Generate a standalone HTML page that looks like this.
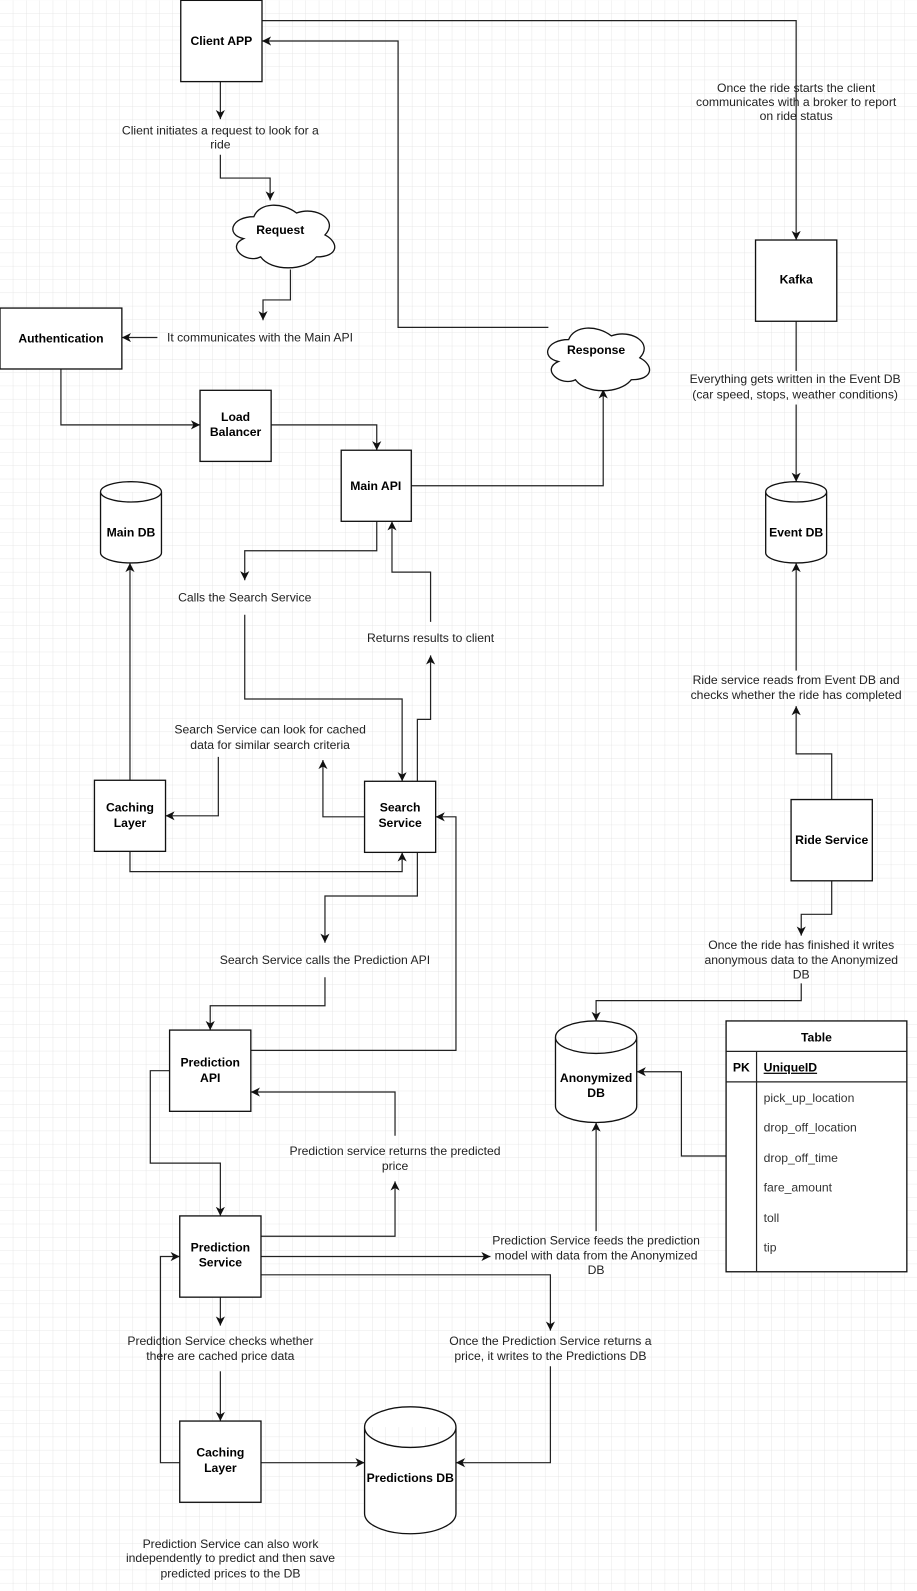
<!DOCTYPE html>
<html><head><meta charset="utf-8"><style>
html,body{margin:0;padding:0;background:#fff;}
svg{display:block;}
text{font-family:"Liberation Sans",sans-serif;font-size:12px;}
.l{fill:#222;text-anchor:middle;}
.n{fill:#000;font-weight:bold;text-anchor:middle;}
.s{fill:#fff;stroke:#111;stroke-width:1.3;}
.c{fill:none;stroke:#222;stroke-width:1.2;}
</style></head><body>
<svg width="917" height="1591" viewBox="0 0 903 1566" xmlns="http://www.w3.org/2000/svg">
<defs>
<pattern id="g" width="13.1" height="13.1" patternUnits="userSpaceOnUse"><path d="M13.1 0V13.1H0" fill="none" stroke="#e2e2e2" stroke-width="0.8"/></pattern>
<marker id="a" markerWidth="12" markerHeight="12" refX="9" refY="4.5" orient="auto" markerUnits="userSpaceOnUse"><path d="M0,0 L9,4.5 L0,9 L2.5,4.5 z" fill="#111"/></marker>
</defs>
<rect width="903" height="1566" fill="url(#g)"/>
<g class="c" marker-end="url(#a)">
<path d="M258,20 H784 V236"/>
<path d="M540,322 H392 V40 H258"/>
<path d="M217,80 V117"/>
<path d="M217,152 V175 H266 V197"/>
<path d="M286,265 V295 H259 V315"/>
<path d="M155,332 H120"/>
<path d="M60,363 V418 H197"/>
<path d="M267,418 H371 V443"/>
<path d="M405,478 H594 V383"/>
<path d="M371,513 V542 H241 V571"/>
<path d="M241,605 V688 H396 V769"/>
<path d="M411,769 V708 H424 V645"/>
<path d="M424,612 V563 H386 V513"/>
<path d="M359,804 H318 V748"/>
<path d="M215,745 V803 H163"/>
<path d="M128,768 V554"/>
<path d="M128,838 V858 H396 V839"/>
<path d="M411,839 V882 H320 V928"/>
<path d="M320,962 V990 H207 V1014"/>
<path d="M247,1034 H449 V804 H429"/>
<path d="M167,1054 H148 V1145 H217 V1197"/>
<path d="M257,1217 H389 V1163"/>
<path d="M389,1118 V1075 H247"/>
<path d="M257,1237 H483"/>
<path d="M587,1212 V1105"/>
<path d="M257,1255 H542 V1310"/>
<path d="M542,1345 V1440 H449"/>
<path d="M217,1277 V1305"/>
<path d="M217,1350 V1399"/>
<path d="M257,1440 H359"/>
<path d="M177,1440 H158 V1237 H177"/>
<path d="M784,398 V474"/>
<path d="M819,787 V742 H784 V695"/>
<path d="M784,660 V554"/>
<path d="M819,867 V900 H789 V921"/>
<path d="M789,968 V985 H587 V1005"/>
<path d="M715,1138 H671 V1055 H627"/>
</g>
<path class="c" d="M784,316 V365"/>
<rect class="s" x="178" y="0" width="80" height="80"/>
<rect class="s" x="0" y="303" width="120" height="60"/>
<rect class="s" x="197" y="384" width="70" height="70"/>
<rect class="s" x="336" y="443" width="69" height="70"/>
<rect class="s" x="744" y="236" width="80" height="80"/>
<rect class="s" x="93" y="768" width="70" height="70"/>
<rect class="s" x="359" y="769" width="70" height="70"/>
<rect class="s" x="779" y="787" width="80" height="80"/>
<rect class="s" x="167" y="1014" width="80" height="80"/>
<rect class="s" x="177" y="1197" width="80" height="80"/>
<rect class="s" x="177" y="1399" width="80" height="80"/>
<path class="s" d="M250,213 C227.6,213 222,231 239.9,234.6 C222,242.5 242.2,259.8 256.7,252.6 C266.8,267 300.4,267 311.6,252.6 C334,252.6 334,238.2 320,231 C334,216.6 311.6,202.2 292,209.4 C278,198.6 255.6,198.6 250,213 Z"/>
<path class="s" d="M560,334 C537.6,334 532,352 549.9,355.6 C532,363.5 552.2,380.8 566.7,373.6 C576.8,388 610.4,388 621.6,373.6 C644,373.6 644,359.2 630,352 C644,337.6 621.6,323.2 602,330.4 C588,319.6 565.6,319.6 560,334 Z"/>
<path class="s" d="M99,484 a30,10 0 0 1 60,0 v60 a30,10 0 0 1 -60,0 z M99,484 a30,10 0 0 0 60,0"/>
<path class="s" d="M754,484 a30,10 0 0 1 60,0 v60 a30,10 0 0 1 -60,0 z M754,484 a30,10 0 0 0 60,0"/>
<path class="s" d="M547,1021 a40,16 0 0 1 80,0 v68 a40,16 0 0 1 -80,0 z M547,1021 a40,16 0 0 0 80,0"/>
<path class="s" d="M359,1405 a45,20 0 0 1 90,0 v85 a45,20 0 0 1 -90,0 z M359,1405 a45,20 0 0 0 90,0"/>
<rect class="s" x="715" y="1005" width="178" height="247"/>
<path class="c" d="M715,1035 H893 M715,1065 H893 M745,1035 V1252"/>
<text class="n" x="804" y="1025">Table</text>
<text class="n" x="730" y="1055">PK</text>
<text x="752" y="1055" style="font-weight:bold;text-decoration:underline" fill="#000">UniqueID</text>
<g fill="#333">
<text x="752" y="1085">pick_up_location</text>
<text x="752" y="1114">drop_off_location</text>
<text x="752" y="1144">drop_off_time</text>
<text x="752" y="1173">fare_amount</text>
<text x="752" y="1203">toll</text>
<text x="752" y="1232">tip</text>
</g>
<text class="n" x="218" y="44">Client APP</text>
<text class="n" x="276" y="230">Request</text>
<text class="n" x="587" y="348">Response</text>
<text class="n" x="60" y="337">Authentication</text>
<text class="n" x="232" y="414">Load</text><text class="n" x="232" y="429">Balancer</text>
<text class="n" x="370" y="482">Main API</text>
<text class="n" x="784" y="279">Kafka</text>
<text class="n" x="129" y="528">Main DB</text>
<text class="n" x="784" y="528">Event DB</text>
<text class="n" x="128" y="799">Caching</text><text class="n" x="128" y="814">Layer</text>
<text class="n" x="394" y="799">Search</text><text class="n" x="394" y="814">Service</text>
<text class="n" x="819" y="831">Ride Service</text>
<text class="n" x="207" y="1050">Prediction</text><text class="n" x="207" y="1065">API</text>
<text class="n" x="587" y="1065">Anonymized</text><text class="n" x="587" y="1080">DB</text>
<text class="n" x="217" y="1232">Prediction</text><text class="n" x="217" y="1247">Service</text>
<text class="n" x="217" y="1434">Caching</text><text class="n" x="217" y="1449">Layer</text>
<text class="n" x="404" y="1459">Predictions DB</text>
<g class="l">
<text x="217" y="132">Client initiates a request to look for a</text><text x="217" y="146">ride</text>
<text x="256" y="336">It communicates with the Main API</text>
<text x="784" y="90">Once the ride starts the client</text><text x="784" y="104">communicates with a broker to report</text><text x="784" y="118">on ride status</text>
<text x="783" y="377">Everything gets written in the Event DB</text><text x="783" y="392">(car speed, stops, weather conditions)</text>
<text x="241" y="592">Calls the Search Service</text>
<text x="424" y="632">Returns results to client</text>
<text x="266" y="722">Search Service can look for cached</text><text x="266" y="737">data for similar search criteria</text>
<text x="784" y="673">Ride service reads from Event DB and</text><text x="784" y="688">checks whether the ride has completed</text>
<text x="789" y="934">Once the ride has finished it writes</text><text x="789" y="949">anonymous data to the Anonymized</text><text x="789" y="963">DB</text>
<text x="320" y="949">Search Service calls the Prediction API</text>
<text x="389" y="1137">Prediction service returns the predicted</text><text x="389" y="1152">price</text>
<text x="587" y="1225">Prediction Service feeds the prediction</text><text x="587" y="1240">model with data from the Anonymized</text><text x="587" y="1254">DB</text>
<text x="217" y="1324">Prediction Service checks whether</text><text x="217" y="1339">there are cached price data</text>
<text x="542" y="1324">Once the Prediction Service returns a</text><text x="542" y="1339">price, it writes to the Predictions DB</text>
<text x="227" y="1524">Prediction Service can also work</text><text x="227" y="1538">independently to predict and then save</text><text x="227" y="1553">predicted prices to the DB</text>
</g>
</svg>
</body></html>
